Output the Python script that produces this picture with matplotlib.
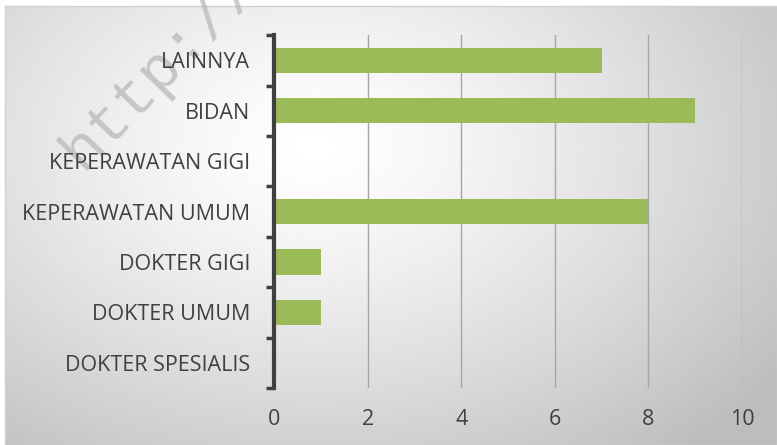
import numpy as np
import matplotlib.pyplot as plt

categories = ["DOKTER SPESIALIS", "DOKTER UMUM", "DOKTER GIGI", "KEPERAWATAN UMUM",
              "KEPERAWATAN GIGI", "BIDAN", "LAINNYA"]
values = [0, 1, 1, 8, 0, 9, 7]
xticks = [0, 2, 4, 6, 8, 10]

fig = plt.figure(figsize=(7.77, 4.45), dpi=100)

# background: radial gradient (light centre, grey edges)
bg = fig.add_axes([0.006, 0, 0.994, 0.986])
yy, xx = np.mgrid[0:1:300j, 0:1:500j]
d = np.sqrt(((xx - 0.40) / 0.75) ** 2 + ((yy - 0.32) / 0.9) ** 2)
shade = 1.0 - 0.26 * np.clip(d, 0, 1) ** 1.3
bg.imshow(shade, cmap="gray", vmin=0, vmax=1, aspect="auto", extent=[0, 1, 0, 1], origin="upper")
bg.set_xticks([])
bg.set_yticks([])
for s in bg.spines.values():
    s.set_color("#d0d0d0")
    s.set_linewidth(1)

# watermark
fig.text(0.106, 0.615, "http://r", rotation=46, rotation_mode="anchor", fontsize=44,
         family="Liberation Mono", color="#b4b4b4", alpha=0.7, ha="left", va="baseline", zorder=5)

ax = fig.add_axes([0.3526, 0.128, 0.6024, 0.793])
ax.patch.set_alpha(0)
y = np.arange(len(categories))
ax.barh(y, values, height=0.5, color="#9bbb59", zorder=3)
ax.set_xlim(0, 10)
ax.set_ylim(-0.5, len(categories) - 0.5)
ax.set_xticks(xticks)
ax.set_yticks(y)
ax.set_yticklabels(categories)
ax.set_yticks(np.arange(-0.5, len(categories)), minor=True)
ax.tick_params(axis="y", which="major", length=0, pad=17, labelsize=15.5, labelcolor="#404040")
ax.tick_params(axis="y", which="minor", length=6, width=2.5, color="#404040")
ax.tick_params(axis="x", length=0, pad=15, labelsize=15.5, labelcolor="#404040")
for lab in ax.get_yticklabels() + ax.get_xticklabels():
    lab.set_family("Open Sans")
    lab.set_zorder(6)
ax.set_zorder(6)
ax.grid(axis="x", color="#a6a6a6", linewidth=1, zorder=1)
for k in ["top", "right", "bottom"]:
    ax.spines[k].set_visible(False)
ax.spines["left"].set_color("#404040")
ax.spines["left"].set_linewidth(3)
ax.spines["left"].set_zorder(4)

fig.savefig("out.png", dpi=100)
